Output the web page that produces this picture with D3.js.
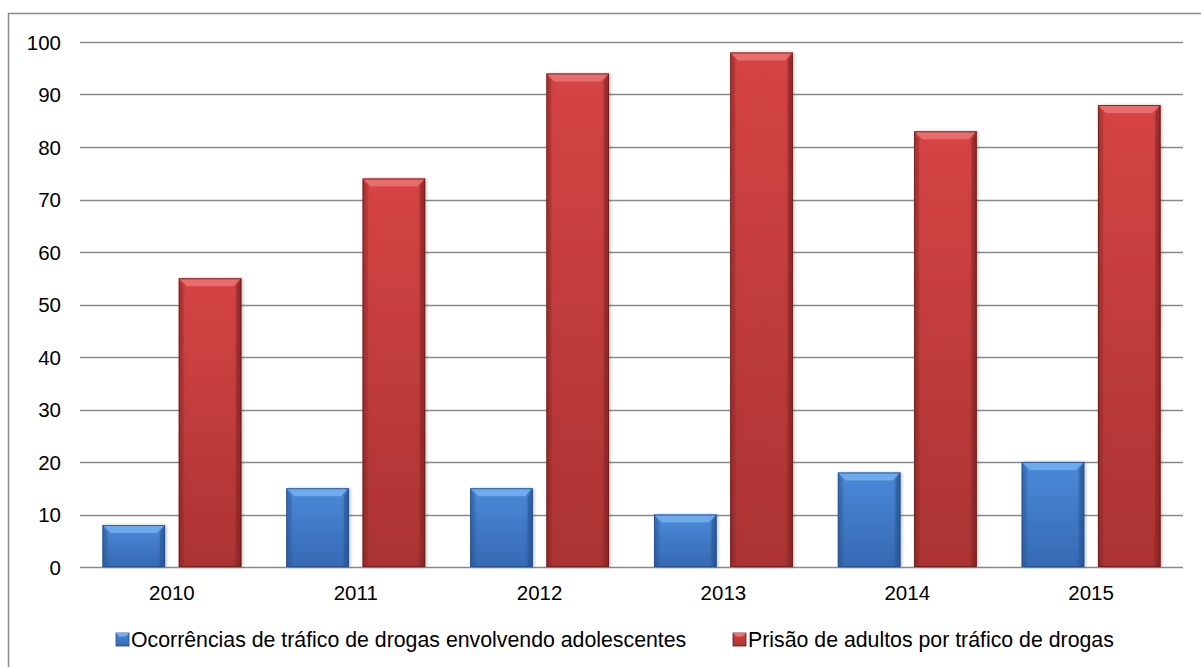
<!DOCTYPE html>
<html>
<head>
<meta charset="utf-8">
<script src="https://cdn.jsdelivr.net/npm/d3@7"></script>
<style>
  body { margin: 0; background: #fff; }
  svg { display: block; font-family: "Liberation Sans", Arial, sans-serif; }
</style>
</head>
<body>
<svg id="chart"></svg>
<script>
const years = ["2010", "2011", "2012", "2013", "2014", "2015"];
const seriesNames = [
  "Ocorrências de tráfico de drogas envolvendo adolescentes",
  "Prisão de adultos por tráfico de drogas"
];
const adolescentes = [8, 15, 15, 10, 18, 20];
const adultos = [55, 74, 94, 98, 83, 88];
const yTicks = [0, 10, 20, 30, 40, 50, 60, 70, 80, 90, 100];

const width = 1201;
const height = 667;
const margin = { top: 42, right: 18, bottom: 100, left: 80 };

const palette = [
  { top: "#4a8ad8", bottom: "#3669b3", bevel: "#74b0f0", edge: "#1f4a85", side: "#2c5c9e" },
  { top: "#d64444", bottom: "#ab3333", bevel: "#ec7474", edge: "#5e1818", side: "#922828" }
];

const svg = d3.select("#chart")
  .attr("width", width)
  .attr("height", height);

// outer frame, only left and top edges are visible
svg.append("path")
  .attr("d", `M8.5,${height} V13.5 H${width}`)
  .attr("fill", "none")
  .attr("stroke", "#8c8c8c")
  .attr("stroke-width", 1.5);

const innerWidth = 1183 - margin.left;
const innerHeight = 567 - margin.top;
const g = svg.append("g")
  .attr("transform", `translate(${margin.left},${margin.top})`);

const x0 = d3.scaleBand()
  .domain(years)
  .range([0, innerWidth])
  .paddingInner(0.245)
  .paddingOuter(0.1225);

const x1 = d3.scaleBand()
  .domain([0, 1])
  .range([0, x0.bandwidth()])
  .paddingInner(0.18);

const y = d3.scaleLinear()
  .domain([0, 100])
  .range([innerHeight, 0]);

const defs = svg.append("defs");
palette.forEach((p, i) => {
  const grad = defs.append("linearGradient")
    .attr("id", `body${i}`)
    .attr("x1", 0).attr("y1", 0).attr("x2", 0).attr("y2", 1);
  grad.append("stop").attr("offset", "0%").attr("stop-color", p.top);
  grad.append("stop").attr("offset", "100%").attr("stop-color", p.bottom);
  const hgrad = defs.append("linearGradient")
    .attr("id", `side${i}`)
    .attr("x1", 0).attr("y1", 0).attr("x2", 1).attr("y2", 0);
  hgrad.append("stop").attr("offset", "0%").attr("stop-color", "#000").attr("stop-opacity", 0.12);
  hgrad.append("stop").attr("offset", "12%").attr("stop-color", "#000").attr("stop-opacity", 0);
  hgrad.append("stop").attr("offset", "88%").attr("stop-color", "#000").attr("stop-opacity", 0);
  hgrad.append("stop").attr("offset", "100%").attr("stop-color", "#000").attr("stop-opacity", 0.25);
});
defs.append("filter").attr("id", "shadow")
  .attr("x", "-10%").attr("y", "-10%").attr("width", "130%").attr("height", "130%")
  .append("feDropShadow")
  .attr("dx", 1.5).attr("dy", 0).attr("stdDeviation", 1.5)
  .attr("flood-color", "#000").attr("flood-opacity", 0.25);

// gridlines
g.append("g")
  .selectAll("line")
  .data(yTicks)
  .join("line")
  .attr("x1", 0).attr("x2", innerWidth)
  .attr("y1", d => Math.round(y(d)) + 0.5)
  .attr("y2", d => Math.round(y(d)) + 0.5)
  .attr("stroke", "#8a8a8a")
  .attr("stroke-width", 1.6);

// y labels
g.append("g")
  .selectAll("text")
  .data(yTicks)
  .join("text")
  .attr("x", -19)
  .attr("y", d => y(d) + 7.5)
  .attr("text-anchor", "end")
  .style("font-size", "20.5px")
  .attr("fill", "#000")
  .text(d => d);

// x labels
g.append("g")
  .selectAll("text")
  .data(years)
  .join("text")
  .attr("x", d => x0(d) + x0.bandwidth() / 2)
  .attr("y", innerHeight + 33)
  .attr("text-anchor", "middle")
  .style("font-size", "20.5px")
  .attr("fill", "#000")
  .text(d => d);

// bars
const rows = years.map((yr, i) => ({ year: yr, values: [adolescentes[i], adultos[i]] }));
const bevel = 8;

const groups = g.append("g")
  .selectAll("g")
  .data(rows)
  .join("g")
  .attr("transform", d => `translate(${x0(d.year)},0)`);

groups.selectAll("g.bar")
  .data(d => d.values.map((v, s) => ({ v, s })))
  .join("g")
  .attr("class", "bar")
  .each(function(d) {
    const p = palette[d.s];
    const bx = x1(d.s);
    const bw = x1.bandwidth();
    const by = y(d.v);
    const bh = innerHeight - by;
    const sel = d3.select(this);
    sel.append("rect")
      .attr("x", bx).attr("y", by)
      .attr("width", bw).attr("height", bh)
      .attr("fill", `url(#body${d.s})`)
      .attr("filter", "url(#shadow)");
    sel.append("rect")
      .attr("x", bx).attr("y", by)
      .attr("width", bw).attr("height", bh)
      .attr("fill", `url(#side${d.s})`);
    const b = Math.min(bevel, bh / 2);
    sel.append("polygon")
      .attr("points", [[bx, by], [bx + bw, by], [bx + bw - b, by + b], [bx + b, by + b]].join(" "))
      .attr("fill", p.bevel)
      .attr("opacity", 0.85);
    sel.append("polygon")
      .attr("points", [[bx, by], [bx + b * 0.6, by + b], [bx + b * 0.6, by + bh - 2], [bx, by + bh]].join(" "))
      .attr("fill", p.side)
      .attr("opacity", 0.4);
    sel.append("polygon")
      .attr("points", [[bx + bw, by], [bx + bw - b * 0.6, by + b], [bx + bw - b * 0.6, by + bh - 2], [bx + bw, by + bh]].join(" "))
      .attr("fill", p.side)
      .attr("opacity", 0.7);
    sel.append("rect")
      .attr("x", bx + 0.5).attr("y", by + 0.5)
      .attr("width", bw - 1).attr("height", bh - 1)
      .attr("fill", "none")
      .attr("stroke", p.edge)
      .attr("stroke-width", 1)
      .attr("stroke-opacity", 0.75);
  });

// legend
const legendItems = [
  { name: seriesNames[0], x: 116, s: 0 },
  { name: seriesNames[1], x: 733, s: 1 }
];
const legend = svg.append("g");
legendItems.forEach(item => {
  const p = palette[item.s];
  const lg = legend.append("g").attr("transform", `translate(${item.x},633)`);
  lg.append("rect")
    .attr("width", 13).attr("height", 13)
    .attr("fill", `url(#body${item.s})`)
    .attr("stroke", p.edge).attr("stroke-width", 0.8);
  lg.append("polygon")
    .attr("points", "0,0 13,0 9.5,3.5 3.5,3.5")
    .attr("fill", p.bevel);
  lg.append("text")
    .attr("x", 15)
    .attr("y", 14)
    .style("font-size", "21.3px")
    .attr("fill", "#000")
    .text(item.name);
});
</script>
</body>
</html>
